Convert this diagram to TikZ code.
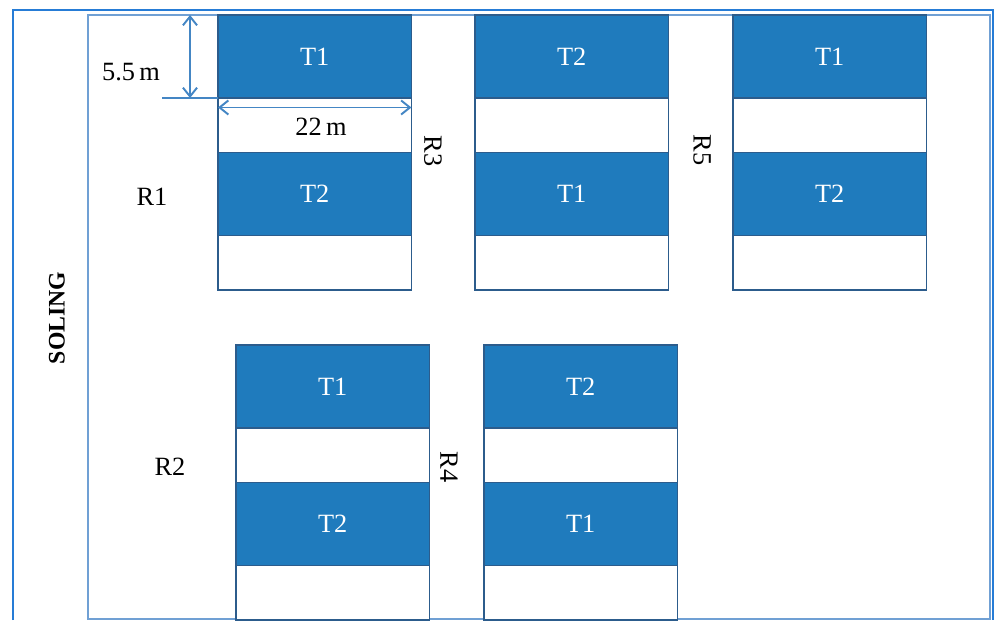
\documentclass[tikz,border=0pt]{standalone}
\usepackage{fontspec}
\setmainfont{Liberation Serif}
\usepackage{xcolor}
\definecolor{colPlot}{RGB}{31,123,189}
\definecolor{colPlotLine}{RGB}{44,92,140}
\definecolor{colFrame}{RGB}{38,124,214}
\definecolor{colInner}{RGB}{112,160,212}
\definecolor{colDim}{RGB}{68,134,196}
\usepackage{tikz}
\usetikzlibrary{arrows.meta}
\tikzset{
	plotcell/.style={draw=colPlotLine, fill=colPlot, text=white, line width=0.8pt, anchor=north west,
		inner sep=0pt, outer sep=0pt, minimum width=3.87cm, minimum height=1.66cm, font=\fontsize{15}{18}\selectfont},
	gapcell/.style={plotcell, fill=white, minimum height=1.09cm},
	lbl/.style={font=\fontsize{15}{18}\selectfont, inner sep=0pt},
	dimline/.style={colDim, line width=1.1pt}
}

\begin{document}
\begin{tikzpicture}[x=0.02cm, y=-0.02cm]
	\useasboundingbox (0,0) rectangle (996,620);
	\draw[colInner, line width=1pt] (88,15) rectangle (990,619);
	\draw[colFrame, line width=1.6pt] (13,620) -- (13,10) -- (993,10) -- (993,620);
	% plots: two treatments per block, alternating
	\foreach \bx/\by/\ta/\tb [count=\i] in {218/15/T1/T2, 475/15/T2/T1, 733/15/T1/T2, 236/345/T1/T2, 484/345/T2/T1} {
		\node[plotcell] (b\i-1) at (\bx,\by) {\ta};
		\node[gapcell] (b\i-2) at (b\i-1.south west) {};
		\node[plotcell] (b\i-3) at (b\i-2.south west) {\tb};
		\node[gapcell] (b\i-4) at (b\i-3.south west) {};
	}
	% dimensions
	\coordinate (ext) at ([xshift=-1.12cm]b1-1.south west);
	\draw[dimline] (ext) -- (b1-1.south west);
	\draw[dimline, {Straight Barb[length=5pt,width=8pt]}-{Straight Barb[length=5pt,width=8pt]}]
		([xshift=-0.56cm]b1-1.north west) -- ([xshift=-0.56cm]b1-1.south west);
	\draw[dimline, {Straight Barb[length=5pt,width=8pt]}-{Straight Barb[length=5pt,width=8pt]}]
		([yshift=-0.19cm]b1-1.south west) -- ([yshift=-0.19cm]b1-1.south east);
	\node[lbl] (h) at (131,72) {5.5\,m};
	\node[lbl] (w) at (321,127) {22\,m};
	% replications
	\node[lbl] (r1) at (152,197) {R1};
	\node[lbl] (r2) at (170,467) {R2};
	\node[lbl, rotate=-90] (r3) at (433,151) {R3};
	\node[lbl, rotate=-90] (r4) at (449,467) {R4};
	\node[lbl, rotate=-90] (r5) at (702,150) {R5};
	\node[font=\fontsize{13.5}{16}\selectfont\bfseries, rotate=90] (soling) at (57,318) {SOLING};
\end{tikzpicture}
\end{document}
